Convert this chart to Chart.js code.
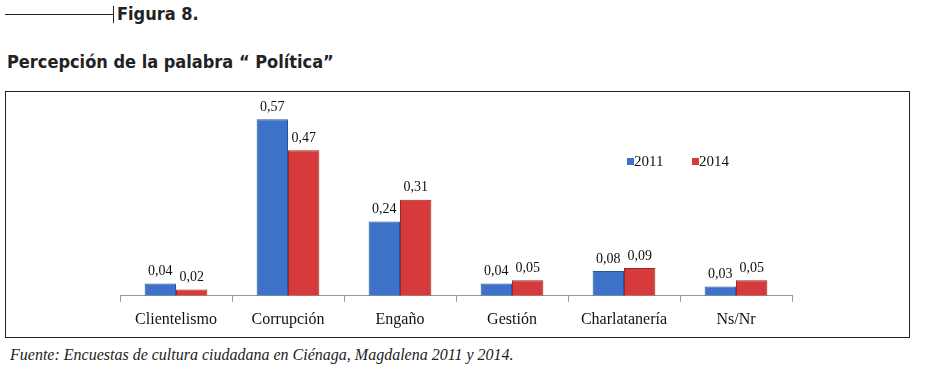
<!DOCTYPE html>
<html>
<head>
<meta charset="utf-8">
<script src="https://cdn.jsdelivr.net/npm/chart.js@4"></script>
<style>
  body { margin: 0; width: 925px; height: 373px; background: #fff; position: relative; overflow: hidden; }
  .rule { position: absolute; left: 5px; top: 14px; width: 108px; height: 1px; background: #222; }
  .rule-tick { position: absolute; left: 113px; top: 6px; width: 1px; height: 17px; background: #222; }
  .fig { position: absolute; left: 117px; top: 3px; font: bold 18px "DejaVu Sans Condensed", "DejaVu Sans", sans-serif; color: #222; }
  .title { position: absolute; left: 7px; top: 51px; font: bold 18px "DejaVu Sans Condensed", "DejaVu Sans", sans-serif; color: #222; }
  .box { position: absolute; left: 5px; top: 91px; width: 903px; height: 245px; border: 1px solid #222; }
  .source { position: absolute; left: 10px; top: 346px; font: italic 16px "Liberation Serif", serif; color: #222; }
</style>
</head>
<body>
<div class="rule"></div><div class="rule-tick"></div>
<div class="fig">Figura 8.</div>
<div class="title">Percepción de la palabra “ Política”</div>
<div class="box"><canvas id="chart" width="903" height="245"></canvas></div>
<div class="source">Fuente: Encuestas de cultura ciudadana en Ciénaga, Magdalena 2011 y 2014.</div>
<script>
const categories = ['Clientelismo', 'Corrupción', 'Engaño', 'Gestión', 'Charlatanería', 'Ns/Nr'];
const values2011 = [0.04, 0.57, 0.24, 0.04, 0.08, 0.03];
const values2014 = [0.02, 0.47, 0.31, 0.05, 0.09, 0.05];
const seriesNames = ['2011', '2014'];

const ctx = document.getElementById('chart').getContext('2d');

// value labels above each bar, comma decimals
const valueLabels = {
  id: 'valueLabels',
  afterDatasetsDraw(chart) {
    const c = chart.ctx;
    c.save();
    c.font = '14px "Liberation Serif", serif';
    c.fillStyle = '#111';
    c.textAlign = 'center';
    c.textBaseline = 'bottom';
    chart.data.datasets.forEach((ds, i) => {
      chart.getDatasetMeta(i).data.forEach((bar, j) => {
        c.fillText(ds.data[j].toFixed(2).replace('.', ','), bar.x, bar.y - 5);
      });
    });
    c.restore();
  }
};

// small legend inside the plot, to the right
const smallLegend = {
  id: 'smallLegend',
  afterDraw(chart) {
    const c = chart.ctx;
    const a = chart.chartArea;
    c.save();
    c.font = '15px "Liberation Serif", serif';
    c.textBaseline = 'middle';
    let x = a.left + 507;
    const y = 70;
    chart.data.datasets.forEach(ds => {
      c.fillStyle = ds.backgroundColor;
      c.fillRect(x, y - 4, 7, 7);
      c.fillStyle = '#111';
      c.fillText(ds.label, x + 7, y);
      x += 65;
    });
    c.restore();
  }
};

new Chart(ctx, {
  type: 'bar',
  data: {
    labels: categories,
    datasets: [
      { label: seriesNames[0], data: values2011, backgroundColor: '#3d72c8', borderColor: '#2a5599', borderWidth: 1 },
      { label: seriesNames[1], data: values2014, backgroundColor: '#d63a3a', borderColor: '#9c2626', borderWidth: 1 }
    ]
  },
  options: {
    responsive: false,
    animation: false,
    layout: { padding: { left: 114, right: 117, top: 18, bottom: 0 } },
    datasets: { bar: { categoryPercentage: 0.56, barPercentage: 1 } },
    plugins: { legend: { display: false }, tooltip: { enabled: false } },
    scales: {
      x: {
        grid: { display: true, drawOnChartArea: false, offset: true, tickLength: 6, color: '#999' },
        border: { color: '#999' },
        ticks: { color: '#111', font: { family: '"Liberation Serif", serif', size: 16 }, padding: 8 }
      },
      y: { display: false, min: 0, max: 0.6 }
    }
  },
  plugins: [valueLabels, smallLegend]
});
</script>
</body>
</html>
